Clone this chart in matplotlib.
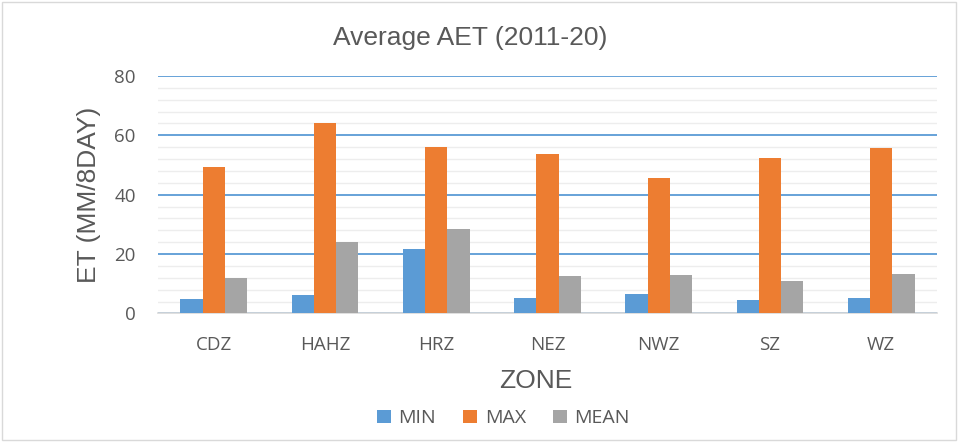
import matplotlib.pyplot as plt
import numpy as np
from matplotlib.patches import Rectangle
from matplotlib.ticker import MultipleLocator

plt.rcParams['font.family'] = ['Open Sans', 'DejaVu Sans']

zones = ["CDZ", "HAHZ", "HRZ", "NEZ", "NWZ", "SZ", "WZ"]
aet_min = [4.9, 6.1, 21.6, 5.3, 6.5, 4.5, 5.2]
aet_max = [49.2, 64.3, 56.2, 53.6, 45.7, 52.5, 55.6]
aet_mean = [11.9, 24.0, 28.4, 12.6, 12.9, 11.0, 13.4]

text_col = '#595959'
x = np.arange(len(zones))
width = 0.2

fig = plt.figure(figsize=(9.59, 4.42), dpi=100)
ax = fig.add_axes([0.1648, 0.291, 0.812, 0.537])

ax.bar(x - width, aet_min, width, label='MIN', color='#5B9BD5', zorder=3)
ax.bar(x, aet_max, width, label='MAX', color='#ED7D31', zorder=3)
ax.bar(x + width, aet_mean, width, label='MEAN', color='#A5A5A5', zorder=3)

ax.set_xlim(-0.5, len(zones) - 0.5)
ax.set_ylim(0, 80)
ax.yaxis.set_major_locator(MultipleLocator(20))
ax.yaxis.set_minor_locator(MultipleLocator(4))
ax.grid(which='major', axis='y', color='#5B9BD5', linewidth=1.3, zorder=1)
ax.grid(which='minor', axis='y', color='#EDEDED', linewidth=1.0, zorder=0)
for s in ['top', 'right', 'left']:
    ax.spines[s].set_visible(False)
ax.spines['bottom'].set_color('#D9D9D9')
ax.spines['bottom'].set_linewidth(1.2)

ax.set_xticks(x)
ax.set_xticklabels(zones)
ax.tick_params(axis='both', which='both', length=0, labelsize=13.5, colors=text_col)
ax.tick_params(axis='y', pad=16)
ax.tick_params(axis='x', pad=16)

ax.set_xlabel('ZONE', fontsize=19, color=text_col, family='Liberation Sans')
ax.xaxis.set_label_coords(0.485, -0.235)
ax.set_ylabel('ET (MM/8DAY)', fontsize=19, color=text_col, family='Liberation Sans')
ax.yaxis.set_label_coords(-0.073, 0.5)
fig.text(0.49, 0.914, 'Average AET (2011-20)', ha='center', va='center', fontsize=19,
         color=text_col, family='Liberation Sans')

fig.legend(loc='center', bbox_to_anchor=(0.525, 0.054), ncol=3, frameon=False,
           fontsize=14, handlelength=0.7, handleheight=0.7, handletextpad=0.4,
           columnspacing=1.4, labelcolor=text_col)

fig.patches.append(Rectangle((0.002, 0.004), 0.995, 0.991, transform=fig.transFigure,
                             fill=False, edgecolor='#D9D9D9', linewidth=1))

plt.savefig('out.png', dpi=100)
